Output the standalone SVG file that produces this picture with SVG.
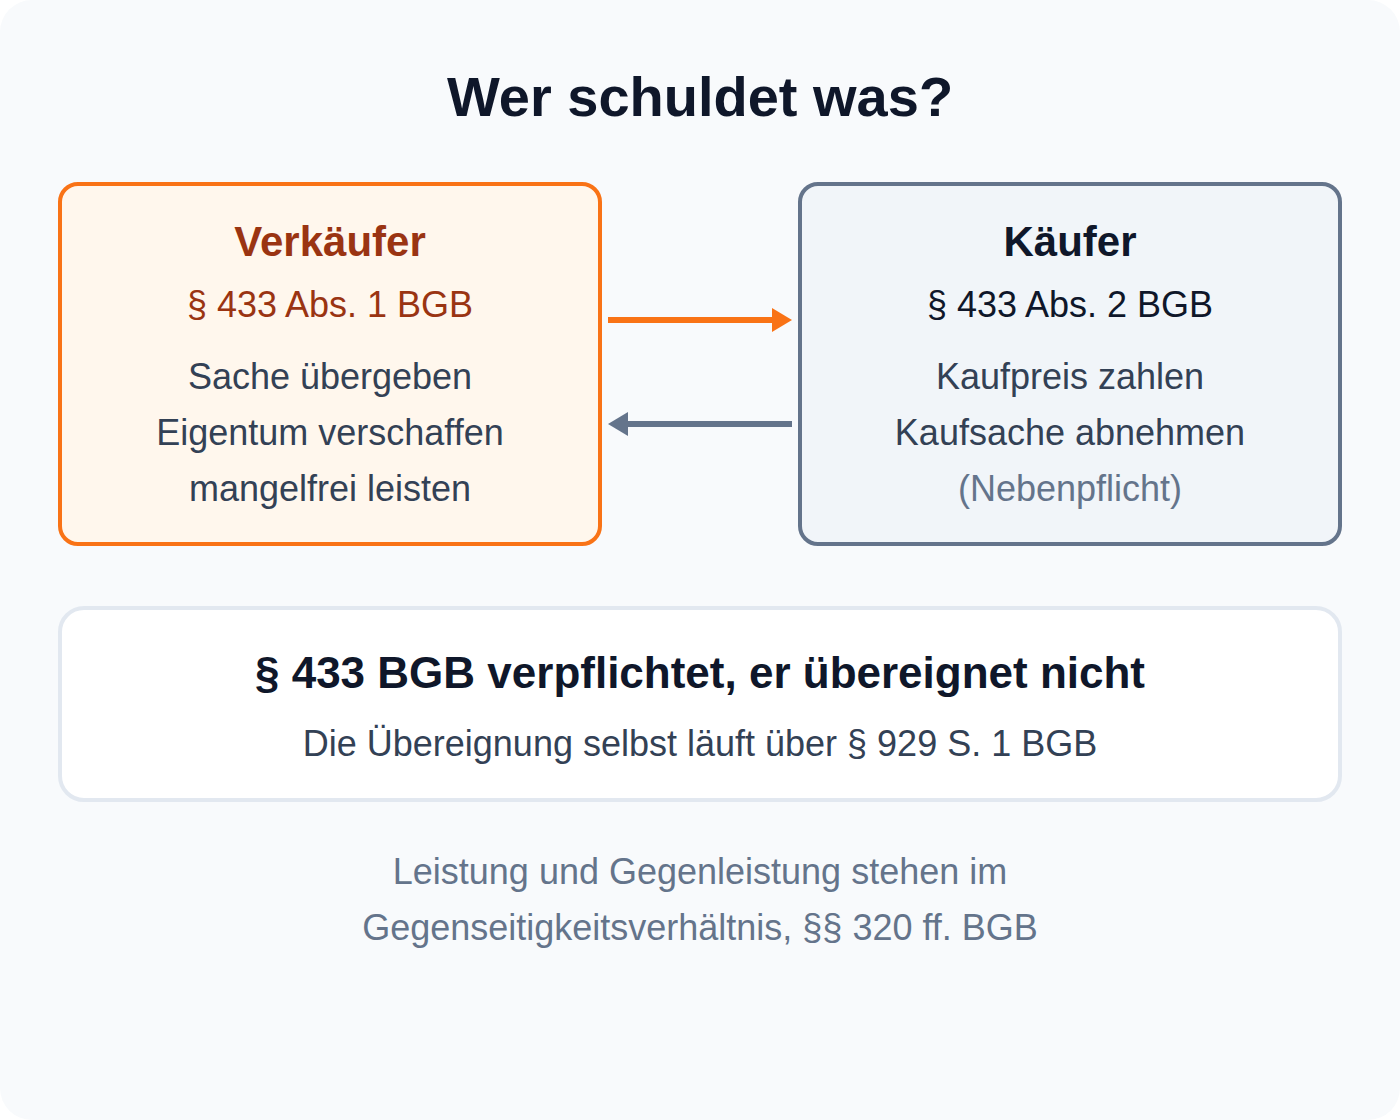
<svg xmlns="http://www.w3.org/2000/svg" width="1400" height="1120" viewBox="0 0 1400 1120">
<defs>
<style>
text{font-family:"Liberation Sans",Arial,sans-serif;text-anchor:middle}
.title{font-size:56px;font-weight:bold;fill:#0f172a}
.head{font-size:42px;font-weight:bold}
.ref{font-size:36px}
.body{font-size:36px;fill:#334155}
.muted{font-size:36px;fill:#64748b}
.card{stroke-width:4}
</style>
<marker id="ahO" viewBox="0 0 20 24" refX="0" refY="12" markerWidth="20" markerHeight="24" markerUnits="userSpaceOnUse" orient="auto"><path d="M0,0 L20,12 L0,24 Z" fill="#f97316"/></marker>
<marker id="ahG" viewBox="0 0 20 24" refX="0" refY="12" markerWidth="20" markerHeight="24" markerUnits="userSpaceOnUse" orient="auto"><path d="M0,0 L20,12 L0,24 Z" fill="#64748b"/></marker>
</defs>
<rect x="0" y="0" width="1400" height="1120" fill="#ffffff"/>
<rect x="0" y="0" width="1400" height="1120" rx="32" fill="#f8fafc"/>
<text class="title" x="700" y="116">Wer schuldet was?</text>
<g id="verkaeufer">
<rect class="card" x="60" y="184" width="540" height="360" rx="18" fill="#fff7ed" stroke="#f97316"/>
<text class="head" x="330" y="256" fill="#9a3412">Verkäufer</text>
<text class="ref" x="330" y="317" fill="#9a3412">§ 433 Abs. 1 BGB</text>
<text class="body" x="330" y="389">Sache übergeben</text>
<text class="body" x="330" y="445">Eigentum verschaffen</text>
<text class="body" x="330" y="501">mangelfrei leisten</text>
</g>
<g id="kaeufer">
<rect class="card" x="800" y="184" width="540" height="360" rx="18" fill="#f1f5f9" stroke="#64748b"/>
<text class="head" x="1070" y="256" fill="#0f172a">Käufer</text>
<text class="ref" x="1070" y="317" fill="#0f172a">§ 433 Abs. 2 BGB</text>
<text class="body" x="1070" y="389">Kaufpreis zahlen</text>
<text class="body" x="1070" y="445">Kaufsache abnehmen</text>
<text class="muted" x="1070" y="501">(Nebenpflicht)</text>
</g>
<g id="connectors">
<line x1="608" y1="320" x2="772" y2="320" stroke="#f97316" stroke-width="6" marker-end="url(#ahO)"/>
<line x1="792" y1="424" x2="628" y2="424" stroke="#64748b" stroke-width="6" marker-end="url(#ahG)"/>
</g>
<g id="hinweis">
<rect class="card" x="60" y="608" width="1280" height="192" rx="24" fill="#ffffff" stroke="#e2e8f0"/>
<text x="700" y="688" font-size="44" font-weight="bold" fill="#0f172a">§ 433 BGB verpflichtet, er übereignet nicht</text>
<text class="body" x="700" y="756">Die Übereignung selbst läuft über § 929 S. 1 BGB</text>
</g>
<g id="fussnote">
<text class="muted" x="700" y="884">Leistung und Gegenleistung stehen im</text>
<text class="muted" x="700" y="940">Gegenseitigkeitsverhältnis, §§ 320 ff. BGB</text>
</g>
</svg>
